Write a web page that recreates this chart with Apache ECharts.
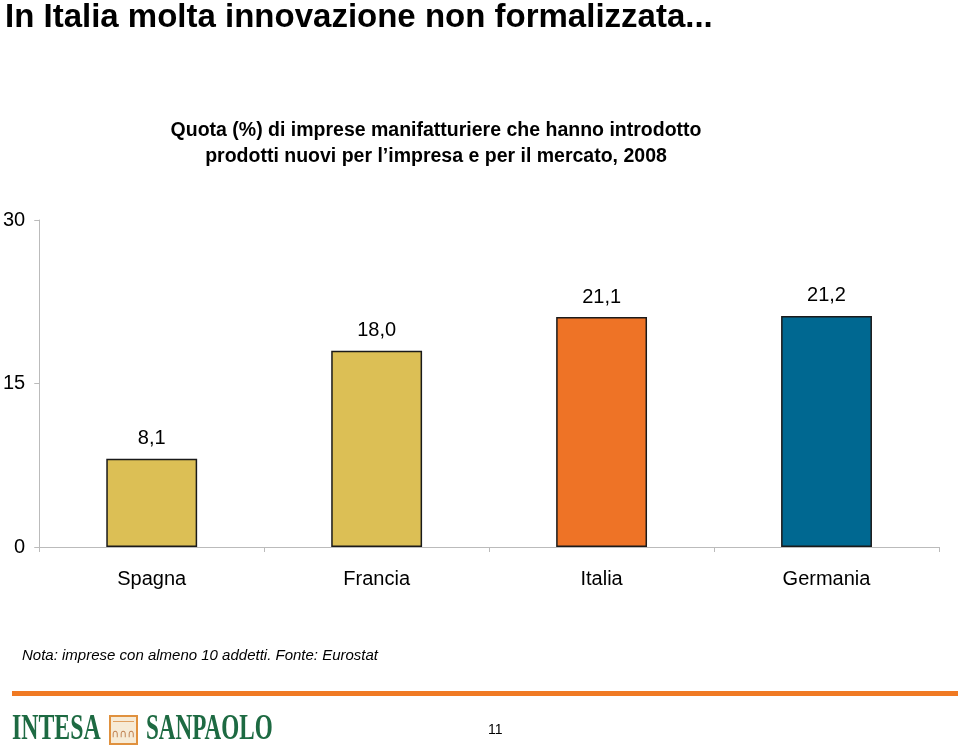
<!DOCTYPE html>
<html><head><meta charset="utf-8">
<script src="https://cdn.jsdelivr.net/npm/echarts@6/dist/echarts.min.js"></script>
<style>html,body{margin:0;padding:0;background:#fff}#c{width:960px;height:756px}</style>
</head><body><div id="c"></div>
<script>
const categories = ['Spagna', 'Francia', 'Italia', 'Germania'];
const values = [8.1, 18.0, 21.1, 21.2];
const barColors = ['#DCBF55', '#DCBF55', '#EE7326', '#006891'];
const yTicks = [0, 15, 30];

const chart = echarts.init(document.getElementById('c'), null, {renderer: 'canvas'});
const S = 'Liberation Sans, Arial, sans-serif';
const SERIF = 'Liberation Serif, Times New Roman, serif';
chart.setOption({
  animation: false,
  title: [
    {text: 'In Italia molta innovazione non formalizzata...', left: 0, top: -4,
     textStyle: {fontFamily: S, fontSize: 33, fontWeight: 'bold', color: '#000'}},
    {text: 'Quota (%) di imprese manifatturiere che hanno introdotto\nprodotti nuovi per l\u2019impresa e per il mercato, 2008',
     left: 431, top: 113, textAlign: 'center',
     textStyle: {fontFamily: S, fontSize: 19.5, fontWeight: 'bold', color: '#000', lineHeight: 26}}
  ],
  grid: {left: 39, right: 21, top: 220, bottom: 209, containLabel: false},
  xAxis: {
    type: 'category', data: categories,
    axisLine: {lineStyle: {color: '#BBBBBB', width: 1}},
    axisTick: {show: true, alignWithLabel: false, length: 5, lineStyle: {color: '#BBBBBB'}},
    axisLabel: {fontFamily: S, fontSize: 20, color: '#000', margin: 22}
  },
  yAxis: {
    type: 'value', min: 0, max: 30, interval: 15,
    axisLine: {show: true, lineStyle: {color: '#BBBBBB', width: 1}},
    axisTick: {show: true, length: 5, lineStyle: {color: '#BBBBBB'}},
    splitLine: {show: false},
    axisLabel: {fontFamily: S, fontSize: 20, color: '#000', margin: 14,
      formatter: v => yTicks.includes(v) ? String(v) : ''}
  },
  series: [{
    type: 'bar', barWidth: '40.4%',
    data: values.map((v, i) => ({value: v, itemStyle: {color: barColors[i]}})),
    itemStyle: {borderColor: '#1a1a1a', borderWidth: 1.5},
    label: {show: true, position: 'top', distance: 10,
      fontFamily: S, fontSize: 20, color: '#000',
      formatter: p => p.value.toFixed(1).replace('.', ',')}
  }],
  graphic: [
    {type: 'text', x: 22, y: 648, style: {text: 'Nota: imprese con almeno 10 addetti. Fonte: Eurostat',
      font: 'italic 15px ' + S, fill: '#000'}},
    {type: 'rect', shape: {x: 12, y: 691, width: 946, height: 5}, style: {fill: '#F07A23'}},
    {type: 'text', x: 12, y: 712, scaleX: 0.68, style: {text: 'INTESA', font: 'bold 35px ' + SERIF, fill: '#1D6A42', verticalAlign: 'top'}},
    {type: 'rect', shape: {x: 110, y: 716, width: 27, height: 28}, style: {fill: '#F7EBD6', stroke: '#E0913E', lineWidth: 2}},
    {type: 'rect', shape: {x: 113, y: 721, width: 21, height: 1}, style: {fill: '#E0A060'}},
    {type: 'text', x: 123.5, y: 734, style: {text: '\u2229\u2229\u2229', font: '11px DejaVu Sans', fill: '#C08050', align: 'center', verticalAlign: 'middle'}},
    {type: 'text', x: 146, y: 712, scaleX: 0.66, style: {text: 'SANPAOLO', font: 'bold 35px ' + SERIF, fill: '#1D6A42', verticalAlign: 'top'}},
    {type: 'text', x: 488, y: 723, style: {text: '11', font: '14px ' + S, fill: '#000'}}
  ]
});
</script></body></html>
